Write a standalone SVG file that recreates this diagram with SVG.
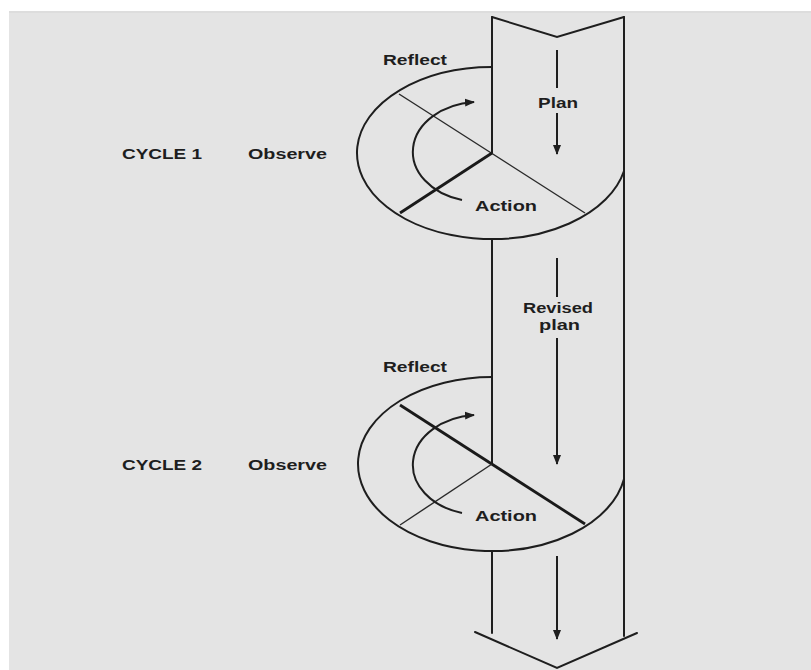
<svg xmlns="http://www.w3.org/2000/svg" width="811" height="670" viewBox="0 0 811 670">
<style>
.ln{fill:none;stroke:#1e1e1e;stroke-width:2;stroke-linecap:round}
.thin{fill:none;stroke:#2a2a2a;stroke-width:1.4}
.thick{fill:none;stroke:#1a1a1a;stroke-width:2.8}
.arr{fill:none;stroke:#1e1e1e;stroke-width:2}
.t{font-family:"Liberation Sans",Arial,sans-serif;font-size:14px;font-weight:bold;fill:#1e1e1e}
</style>
<defs>
<marker id="ah" viewBox="0 0 10 10" refX="9" refY="5" markerWidth="5" markerHeight="5" orient="auto" markerUnits="strokeWidth">
<path d="M0,1 L10,5 L0,9 Z" fill="#1e1e1e"/>
</marker>
</defs>
<rect x="0" y="0" width="811" height="670" fill="#ffffff"/>
<rect x="9" y="11" width="802" height="659" fill="#e4e4e4"/>
<line x1="9" y1="12" x2="811" y2="12" stroke="#d6d6d6" stroke-width="1"/>

<g id="band">
<path class="ln" d="M492,17 L557,37 L624,17"/>
<path class="ln" d="M624,17 V636"/>
<path class="ln" d="M492,17 V153"/>
<path class="ln" d="M492,239 V464"/>
<path class="ln" d="M492,551 V633"/>
<path class="ln" d="M475,632 L557,668 L637,633"/>
</g>

<g id="cycle1">
<path class="ln" d="M492,67 A135,86 0 1 0 624,171"/>
<line class="thin" x1="399" y1="94" x2="585" y2="213"/>
<line class="thick" x1="492" y1="153" x2="400" y2="213"/>
<text class="t" x="383" y="65" textLength="64" lengthAdjust="spacingAndGlyphs">Reflect</text>
<text class="t" x="475" y="211" textLength="62" lengthAdjust="spacingAndGlyphs">Action</text>
<text class="t" x="122" y="159" textLength="80" lengthAdjust="spacingAndGlyphs">CYCLE 1</text>
<text class="t" x="248" y="159" textLength="79" lengthAdjust="spacingAndGlyphs">Observe</text>
</g>

<g id="cycle2">
<path class="ln" d="M492,377 A134,87 0 1 0 624,479"/>
<line class="thick" x1="400" y1="405" x2="585" y2="524"/>
<line class="thin" x1="492" y1="464" x2="400" y2="525"/>
<text class="t" x="383" y="372" textLength="64" lengthAdjust="spacingAndGlyphs">Reflect</text>
<text class="t" x="475" y="521" textLength="62" lengthAdjust="spacingAndGlyphs">Action</text>
<text class="t" x="122" y="470" textLength="80" lengthAdjust="spacingAndGlyphs">CYCLE 2</text>
<text class="t" x="248" y="470" textLength="79" lengthAdjust="spacingAndGlyphs">Observe</text>
</g>

<g id="plan">
<text class="t" x="538" y="108" textLength="40" lengthAdjust="spacingAndGlyphs">Plan</text>
</g>
<g id="revised-plan">
<text class="t" x="523" y="313" textLength="70" lengthAdjust="spacingAndGlyphs">Revised</text>
<text class="t" x="539" y="330" textLength="41" lengthAdjust="spacingAndGlyphs">plan</text>
</g>

<g id="connectors">
<line class="arr" x1="557" y1="50" x2="557" y2="88"/>
<line class="arr" x1="557" y1="113" x2="557" y2="154" marker-end="url(#ah)"/>
<line class="arr" x1="557" y1="258" x2="557" y2="297"/>
<line class="arr" x1="557" y1="338" x2="557" y2="464" marker-end="url(#ah)"/>
<line class="arr" x1="557" y1="556" x2="557" y2="639" marker-end="url(#ah)"/>
<path class="arr" d="M462,200 A67,50 0 0 1 474,102" marker-end="url(#ah)"/>
<path class="arr" d="M462,513 A67,50 0 0 1 474,415" marker-end="url(#ah)"/>
</g>
</svg>
